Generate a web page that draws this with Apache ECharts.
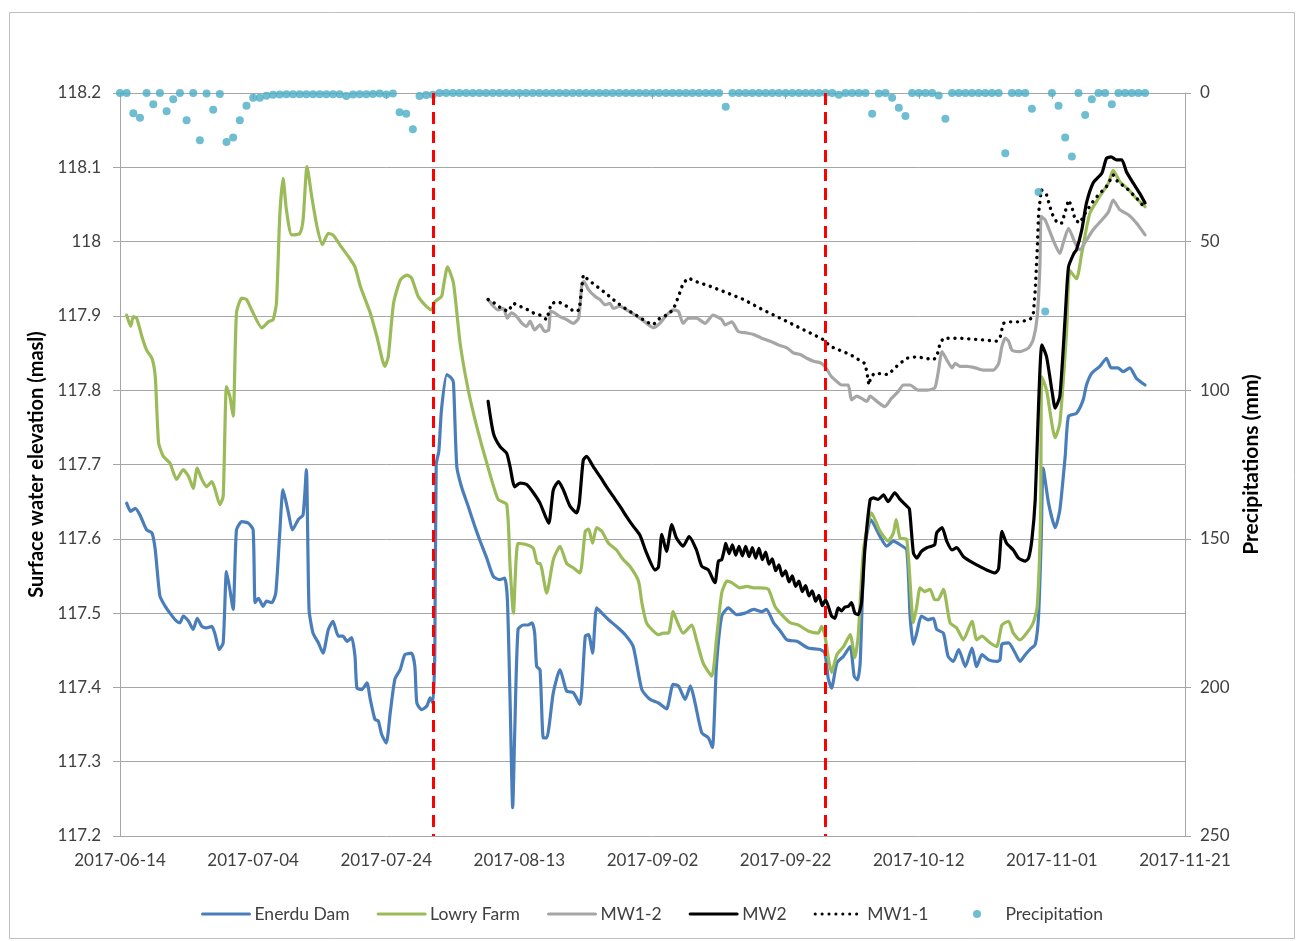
<!DOCTYPE html>
<html>
<head>
<meta charset="utf-8">
<title>Surface water elevation and precipitation, 2017</title>
<script src="https://cdn.jsdelivr.net/npm/echarts@6/dist/echarts.min.js"></script>
<style>
  html, body { margin: 0; padding: 0; background: #ffffff; }
  #chart { width: 1296px; height: 941px; }
</style>
</head>
<body>
<div id="chart"></div>
<script>
// x values are days after 2017-06-14
const xTickLabels = ['2017-06-14', '2017-07-04', '2017-07-24', '2017-08-13', '2017-09-02',
  '2017-09-22', '2017-10-12', '2017-11-01', '2017-11-21'];

// Red dashed markers: 2017-07-31 and 2017-09-28
const eventDays = [47, 106];

// Surface water elevation (masl), [day, value]
const enerduDam = [
  [1,117.648],[1.6,117.637],[2.3,117.641],[3,117.632],[4,117.612],[4.8,117.608],[5.3,117.585],[6,117.523],
  [6.8,117.509],[7.5,117.500],[8.3,117.491],[9,117.487],[9.5,117.496],[10.3,117.489],[11,117.478],[11.6,117.493],
  [12.3,117.482],[13,117.480],[13.8,117.482],[14.3,117.471],[14.9,117.451],[15.5,117.460],[16,117.556],[16.5,117.532],
  [17,117.505],[17.5,117.612],[18.3,117.623],[19.3,117.621],[20,117.612],[20.3,117.514],[20.8,117.520],[21.5,117.509],
  [22,117.516],[22.8,117.514],[23.4,117.527],[24,117.608],[24.5,117.666],[25.3,117.635],[25.9,117.612],[26.8,117.626],
  [27.5,117.632],[28,117.693],[28.4,117.505],[29,117.473],[29.8,117.460],[30.5,117.446],[31.3,117.478],[32,117.489],
  [32.8,117.469],[33.5,117.469],[34.1,117.462],[34.8,117.467],[35.3,117.442],[35.6,117.399],[36.3,117.397],[37.1,117.406],
  [37.6,117.384],[38.3,117.357],[38.8,117.355],[39.3,117.337],[40,117.325],[40.6,117.366],[41.3,117.411],[42.1,117.424],
  [42.8,117.444],[43.8,117.446],[44.3,117.428],[44.6,117.379],[45.3,117.370],[46.1,117.375],[46.6,117.386],[47.0,117.379],
  [47.3,117.450],[47.5,117.700],[47.9,117.718],[48.3,117.774],[49.1,117.821],[49.8,117.816],[50.1,117.810],[50.6,117.697],
  [51.3,117.670],[52.3,117.644],[53.3,117.617],[54.1,117.597],[55.1,117.574],[56.1,117.549],[57.1,117.545],[57.8,117.547],
  [58.2,117.518],[58.6,117.384],[59,117.238],[59.3,117.339],[59.8,117.478],[60.6,117.484],[61.3,117.484],[61.9,117.487],
  [62.3,117.473],[62.6,117.428],[63.1,117.424],[63.6,117.332],[64.1,117.332],[65.1,117.393],[66.1,117.424],[67.1,117.395],
  [68.1,117.393],[69.1,117.377],[69.9,117.469],[70.4,117.471],[71,117.446],[71.6,117.507],[72.4,117.500],[73.4,117.491],
  [74.6,117.482],[75.9,117.471],[77.1,117.455],[78.4,117.397],[79.6,117.384],[80.9,117.379],[82.1,117.371],[83.1,117.404],
  [83.9,117.402],[84.9,117.384],[85.7,117.402],[86.4,117.379],[87.4,117.339],[88.4,117.332],[89,117.319],[89.6,117.428],
  [90.4,117.496],[91.4,117.507],[92.6,117.498],[93.9,117.500],[95.2,117.505],[96.4,117.502],[97.1,117.505],[98.2,117.487],
  [99.2,117.476],[100.2,117.464],[101.7,117.462],[103.4,117.453],[105.2,117.451],[105.9,117.446],[106.4,117.412],[106.9,117.399],
  [107.7,117.433],[108.7,117.442],[109.7,117.455],[110.3,117.415],[110.8,117.410],[111.2,117.433],[111.8,117.581],[112.8,117.626],
  [114.2,117.603],[115.2,117.590],[116.2,117.597],[117.2,117.592],[118.2,117.585],[118.7,117.496],[119.2,117.458],[119.7,117.473],
  [120.4,117.496],[121.4,117.491],[122.2,117.493],[122.7,117.478],[123.7,117.473],[124.4,117.442],[125.2,117.435],[126,117.451],
  [127,117.428],[128,117.453],[128.7,117.428],[129.5,117.444],[130.5,117.437],[131.7,117.435],[132.2,117.437],[132.5,117.458],
  [133.5,117.460],[134.5,117.446],[135.2,117.435],[136,117.444],[136.7,117.451],[137.5,117.458],[138,117.496],[138.4,117.600],
  [138.7,117.695],[139.5,117.648],[140.5,117.615],[141.2,117.639],[142,117.711],[142.5,117.765],[143.7,117.769],[144.7,117.787],
  [145.2,117.807],[146,117.823],[147.2,117.832],[148.2,117.843],[148.9,117.830],[149.9,117.830],[150.7,117.825],[151.7,117.830],
  [152.7,117.816],[154,117.807]
];

const lowryFarm = [
  [1,117.901],[1.6,117.886],[2,117.899],[2.5,117.897],[3.3,117.872],[4,117.854],[4.8,117.843],[5.3,117.818],
  [5.8,117.729],[6.5,117.711],[7.5,117.702],[8.5,117.680],[9.5,117.693],[10.3,117.684],[11,117.668],[11.6,117.695],
  [12.3,117.680],[13,117.670],[13.8,117.677],[14.3,117.666],[15,117.646],[15.5,117.657],[16,117.805],[16.5,117.792],
  [17,117.765],[17.5,117.904],[18.3,117.924],[19,117.922],[20,117.904],[21.3,117.884],[22.3,117.892],[23,117.895],
  [23.5,117.917],[24,118.034],[24.5,118.085],[25,118.043],[25.8,118.009],[27,118.011],[27.5,118.029],[28.1,118.101],
  [28.8,118.061],[29.6,118.020],[30.4,117.996],[31.3,118.011],[32,118.009],[33,117.996],[34.3,117.980],[35.3,117.966],
  [36.1,117.940],[37.6,117.904],[38.6,117.872],[39.8,117.832],[40.3,117.845],[41.1,117.917],[42.1,117.948],[43.1,117.955],
  [43.8,117.951],[44.8,117.926],[45.8,117.915],[46.8,117.908],[47.3,117.919],[48.3,117.926],[48.6,117.940],[49.2,117.966],
  [50.1,117.944],[51.1,117.863],[52.3,117.801],[53.6,117.751],[55.1,117.702],[56.8,117.653],[58.1,117.646],[58.6,117.563],
  [59.1,117.500],[59.8,117.594],[61.1,117.592],[62.1,117.587],[62.7,117.567],[63.1,117.567],[64.1,117.527],[65.1,117.572],
  [66.1,117.590],[67.1,117.567],[68.1,117.561],[69.1,117.554],[69.9,117.610],[70.4,117.613],[71,117.594],[71.6,117.615],
  [72.4,117.610],[73.4,117.594],[74.6,117.585],[75.6,117.572],[76.6,117.563],[77.9,117.543],[78.4,117.514],[79.1,117.487],
  [80.1,117.476],[80.9,117.471],[81.6,117.473],[82.4,117.473],[83.1,117.502],[83.6,117.491],[84.6,117.473],[85.9,117.484],
  [86.6,117.464],[87.6,117.433],[88.9,117.415],[89.6,117.464],[90.4,117.527],[91.2,117.543],[91.9,117.541],[93.1,117.534],
  [94.2,117.536],[95.2,117.534],[96.2,117.534],[97.4,117.532],[98.4,117.509],[99.4,117.498],[100.7,117.487],[101.9,117.484],
  [103.4,117.476],[104.9,117.473],[105.4,117.482],[105.9,117.470],[106.4,117.440],[106.9,117.420],[107.7,117.444],[108.7,117.455],
  [109.7,117.471],[110.4,117.440],[110.9,117.469],[111.7,117.585],[112.9,117.635],[114.2,117.610],[115.4,117.597],[116.2,117.608],
  [116.6,117.626],[117.2,117.601],[118.2,117.599],[119.2,117.487],[119.7,117.509],[120.2,117.534],[120.9,117.529],[121.7,117.532],
  [122.4,117.518],[122.9,117.518],[123.7,117.532],[124.7,117.487],[125.7,117.480],[126.7,117.464],[128,117.489],[128.7,117.464],
  [129.5,117.469],[130.7,117.460],[131.7,117.455],[132.5,117.484],[133.5,117.489],[134.2,117.473],[135.2,117.464],[136.2,117.473],
  [137.2,117.487],[137.8,117.509],[138.3,117.630],[138.5,117.818],[139.2,117.800],[140.5,117.736],[141.2,117.756],[142.2,117.877],
  [142.7,117.961],[143.7,117.950],[144.5,117.985],[145.7,118.038],[147.2,118.061],[148.5,118.079],[149.2,118.096],[150.2,118.081],
  [151.5,118.070],[152.7,118.058],[154,118.047]
];

const mw1_2 = [
  [55.3,117.922],[56.1,117.913],[56.8,117.908],[57.6,117.910],[58.2,117.897],[58.8,117.904],[59.6,117.899],[60.4,117.890],
  [61.1,117.886],[61.6,117.893],[62.3,117.881],[63.1,117.888],[63.8,117.879],[64.4,117.881],[64.7,117.906],[65.3,117.904],
  [66.1,117.899],[67.1,117.895],[68.1,117.890],[68.9,117.897],[69.4,117.944],[69.7,117.946],[70.4,117.935],[71.4,117.926],
  [72.1,117.922],[72.9,117.915],[73.6,117.917],[74.1,117.910],[75.1,117.913],[76.1,117.908],[77.4,117.901],[78.4,117.895],
  [79.4,117.888],[80.1,117.884],[81.1,117.890],[82.1,117.901],[83.1,117.908],[83.9,117.906],[84.6,117.890],[85.4,117.897],
  [86.6,117.897],[87.9,117.890],[89.1,117.901],[90.4,117.895],[90.9,117.888],[91.9,117.892],[92.9,117.879],[94.2,117.877],
  [95.2,117.875],[96.4,117.870],[97.7,117.866],[98.9,117.861],[100.2,117.857],[101.2,117.850],[102.2,117.848],[103.2,117.843],
  [104.2,117.839],[105.2,117.837],[105.9,117.832],[106.9,117.818],[107.9,117.810],[108.4,117.807],[109.4,117.807],[109.9,117.787],
  [110.7,117.792],[111.4,117.789],[112.2,117.785],[112.7,117.792],[113.7,117.785],[114.9,117.778],[115.9,117.789],[116.9,117.798],
  [117.7,117.807],[118.7,117.807],[119.9,117.800],[121.2,117.800],[122.4,117.803],[122.9,117.823],[123.5,117.852],[124.2,117.841],
  [125,117.830],[125.5,117.836],[126.2,117.832],[127.2,117.832],[128.5,117.830],[129.7,117.827],[131.2,117.827],[132,117.836],
  [132.5,117.859],[133,117.870],[133.5,117.866],[134,117.854],[135.2,117.852],[136.5,117.857],[137.2,117.868],[137.8,117.899],
  [138.2,117.966],[138.4,118.034],[139,118.029],[140.2,118.002],[141.2,117.984],[141.7,117.998],[142.5,118.018],[143.5,117.998],
  [144.2,117.989],[145.2,118.002],[146.2,118.016],[147.5,118.029],[148.5,118.040],[149.2,118.056],[150.2,118.043],[151.5,118.036],
  [152.7,118.025],[154,118.009]
];

const mw2 = [
  [55.3,117.785],[56.1,117.742],[57.1,117.724],[58.1,117.715],[58.6,117.697],[59.3,117.670],[60.1,117.675],[61.1,117.673],
  [62.1,117.662],[63.1,117.648],[64.4,117.621],[65.1,117.666],[65.9,117.677],[66.6,117.666],[67.6,117.644],[68.6,117.635],
  [69,117.648],[69.6,117.706],[70.1,117.711],[71.1,117.697],[72.1,117.684],[73.1,117.670],[74.1,117.657],[75.1,117.644],
  [76.1,117.630],[77.1,117.617],[78.1,117.605],[79.1,117.581],[80.4,117.558],[80.9,117.562],[81.4,117.606],[82.1,117.583],
  [82.9,117.619],[83.6,117.601],[84.6,117.590],[85.5,117.603],[86.6,117.585],[87.4,117.563],[88.4,117.558],[89.1,117.545],
  [89.4,117.541],[89.9,117.570],[90.4,117.572],[90.9,117.590],
  [91,117.594],[91.5,117.580],[92,117.592],[92.5,117.578],[93,117.590],[93.5,117.577],[94,117.590],[94.5,117.576],
  [95,117.588],[95.5,117.574],[96,117.587],[96.5,117.572],[97,117.582],[97.5,117.566],[98,117.573],[98.5,117.557],
  [99,117.565],[99.5,117.550],[100,117.557],[100.5,117.542],[101,117.550],[101.5,117.536],[102,117.543],[102.5,117.529],
  [103,117.537],[103.5,117.523],[104,117.530],[104.5,117.516],[105,117.524],[105.5,117.510],[106,117.518],
  [106.9,117.496],[107.4,117.493],[107.9,117.507],[108.4,117.503],[108.9,117.508],[109.4,117.509],[109.9,117.514],[110.4,117.500],
  [110.9,117.498],[111.4,117.514],[111.9,117.585],[112.7,117.653],[113.2,117.655],[113.9,117.653],[114.7,117.659],[115.4,117.650],
  [116.4,117.662],[117.2,117.653],[118.2,117.644],[118.6,117.640],[119.2,117.581],[119.7,117.574],[120.4,117.583],[121.2,117.588],
  [121.9,117.590],[122.4,117.592],[122.7,117.608],[123.5,117.615],[124.2,117.597],[125,117.585],[125.7,117.588],[126.7,117.576],
  [127.7,117.570],[128.7,117.565],[130.2,117.558],[131.5,117.554],[132,117.560],[132.5,117.610],[133.2,117.594],[134.2,117.585],
  [135,117.574],[136,117.570],[136.5,117.574],[137,117.599],[137.5,117.653],[138,117.780],[138.5,117.861],[139.2,117.845],
  [140,117.800],[140.5,117.776],[141.2,117.792],[142,117.899],[142.5,117.966],[143.3,117.984],[143.7,117.989],[144.5,118.016],
  [145.2,118.052],[146.2,118.079],[147.5,118.092],[148.2,118.112],[148.9,118.114],[149.7,118.110],[150.5,118.110],[151.2,118.094],
  [152.2,118.079],[153.2,118.065],[154,118.052]
];

const mw1_1 = [
  [55.3,117.922],[56.3,117.917],[57.3,117.910],[58.3,117.906],[59.1,117.917],[60.1,117.913],[61.1,117.909],[62.1,117.904],
  [63.1,117.901],[64.1,117.895],[64.8,117.917],[65.9,117.919],[67.1,117.913],[68.2,117.906],[69,117.908],[69.4,117.940],
  [69.6,117.955],[70.4,117.948],[71.6,117.940],[72.9,117.931],[74.1,117.922],[75.4,117.913],[76.6,117.906],[77.9,117.899],
  [79.1,117.892],[80.1,117.888],[81.1,117.897],[82.1,117.901],[83.1,117.908],[83.9,117.926],[84.6,117.944],[85.4,117.951],
  [86.6,117.946],[88.6,117.940],[91.2,117.931],[93.7,117.922],[96.2,117.910],[98.7,117.899],[101.2,117.888],[103.7,117.877],
  [105.7,117.868],[106.7,117.859],[109.7,117.848],[111.9,117.836],[112.2,117.825],[112.5,117.807],[112.8,117.818],[113.4,117.823],
  [115.4,117.821],[116.9,117.834],[118.2,117.843],[119.7,117.845],[122.2,117.841],[122.7,117.845],[123.2,117.863],[123.7,117.870],
  [126.2,117.870],[129.2,117.868],[131.7,117.866],[132.2,117.870],[132.7,117.890],[133.5,117.892],[135.2,117.892],[136.7,117.895],
  [137.2,117.901],[137.5,117.935],[137.8,117.989],[138,118.038],[138.4,118.070],[139.2,118.063],[140,118.038],[140.8,118.025],
  [141.5,118.025],[142,118.040],[142.5,118.056],[143,118.047],[143.5,118.029],[144.2,118.025],[145,118.038],[146,118.052],
  [147,118.063],[148.2,118.074],[149.2,118.090],[150,118.079],[151,118.074],[152,118.065],[153,118.056],[154,118.045]
];

// Daily precipitation (mm), one value per day from 2017-06-14
const precipitation = [
  0, 0, 6.8, 8.3, 0, 3.8, 0, 6.1, 2.1, 0,
  9.2, 0, 15.9, 0.2, 5.6, 0.3, 16.5, 15.0, 9.2, 4.3,
  1.6, 1.6, 0.9, 0.6, 0.5, 0.4, 0.4, 0.4, 0.4, 0.4,
  0.4, 0.4, 0.4, 0.4, 1.0, 0.5, 0.4, 0.4, 0.3, 0.2,
  0.5, 0.2, 6.5, 7.0, 12.2, 1.0, 0.7, 0.6, 0, 0,
  0, 0, 0, 0, 0, 0, 0, 0, 0, 0,
  0, 0, 0, 0, 0, 0, 0, 0, 0, 0,
  0, 0, 0, 0, 0, 0, 0, 0, 0, 0,
  0, 0, 0, 0, 0, 0, 0, 0, 0, 0,
  0, 4.6, 0, 0, 0, 0, 0, 0, 0, 0,
  0, 0, 0, 0, 0, 0, 0, 0, 0.6, 0,
  0, 0, 0, 7.0, 0.2, 0, 1.6, 5.0, 7.7, 0,
  0, 0, 0, 0.8, 8.7, 0, 0, 0, 0, 0,
  0, 0, 0, 20.3, 0, 0, 0, 5.3, 33.3, 73.5,
  0, 4.3, 15.0, 21.4, 0, 7.4, 2.1, 0, 0, 3.8,
  0, 0, 0, 0, 0
];

const FONT = 'Lato';
const AXIS_GREY = '#A6A6A6';
const LABEL_COLOR = '#404040';

function lineSeries(name, data, color, extra) {
  return Object.assign({
    name: name,
    type: 'line',
    data: data,
    yAxisIndex: 0,
    symbol: 'none',
    smooth: 0.2,
    lineStyle: { color: color, width: 3.2, cap: 'round', join: 'round' },
    itemStyle: { color: color },
    emphasis: { disabled: true },
    z: 2
  }, extra || {});
}

const legendBase = {
  top: 900,
  itemWidth: 47,
  itemHeight: 8,
  itemGap: 27,
  selectedMode: false,
  textStyle: { fontFamily: FONT, fontSize: 17.5, color: LABEL_COLOR },
  lineStyle: { width: 3 }
};

const chart = echarts.init(document.getElementById('chart'), null, { renderer: 'canvas' });

chart.setOption({
  animation: false,
  backgroundColor: '#ffffff',
  textStyle: { fontFamily: FONT },
  graphic: [{
    type: 'rect',
    left: 7,
    top: 10,
    shape: { width: 1285, height: 926 },
    style: { fill: 'none', stroke: '#BFBFBF', lineWidth: 1 },
    silent: true,
    z: -10
  }],
  grid: { left: 120, right: 111, top: 93, bottom: 105 },
  legend: [
    Object.assign({}, legendBase, {
      id: 'levels',
      left: 196,
      data: [
        { name: 'Enerdu Dam', itemStyle: { opacity: 0 } },
        { name: 'Lowry Farm', itemStyle: { opacity: 0 } },
        { name: 'MW1-2', itemStyle: { opacity: 0 } },
        { name: 'MW2', itemStyle: { opacity: 0 } },
        { name: 'MW1-1', itemStyle: { opacity: 0 } }
      ]
    }),
    Object.assign({}, legendBase, {
      id: 'rain',
      left: 968,
      data: [{ name: 'Precipitation', icon: 'circle' }]
    })
  ],
  xAxis: {
    type: 'value',
    min: 0,
    max: 160,
    interval: 20,
    axisLine: { show: true, lineStyle: { color: AXIS_GREY, width: 1 } },
    axisTick: { show: true, length: 6, lineStyle: { color: AXIS_GREY } },
    splitLine: { show: false },
    axisLabel: {
      margin: 16,
      fontFamily: FONT,
      fontSize: 17,
      color: LABEL_COLOR,
      formatter: function (v) { return xTickLabels[Math.round(v / 20)] || ''; }
    }
  },
  yAxis: [{
    type: 'value',
    position: 'left',
    min: 117.2,
    max: 118.2,
    interval: 0.1,
    name: 'Surface water elevation (masl)',
    nameLocation: 'middle',
    nameRotate: 90,
    nameGap: 68,
    nameTextStyle: { fontFamily: FONT, fontSize: 20, fontWeight: 'bold', color: '#000000' },
    axisLine: { show: true, lineStyle: { color: AXIS_GREY, width: 1 } },
    axisTick: { show: true, length: 7, lineStyle: { color: AXIS_GREY } },
    splitLine: { show: true, lineStyle: { color: AXIS_GREY, width: 1 } },
    axisLabel: {
      margin: 19,
      fontFamily: FONT,
      fontSize: 17,
      color: LABEL_COLOR,
      formatter: function (v) { return String(Math.round(v * 10) / 10); }
    }
  }, {
    type: 'value',
    position: 'right',
    min: 0,
    max: 250,
    interval: 50,
    inverse: true,
    name: 'Precipitations (mm)',
    nameLocation: 'middle',
    nameRotate: 90,
    nameGap: 56,
    nameTextStyle: { fontFamily: FONT, fontSize: 21, fontWeight: 'bold', color: '#000000' },
    axisLine: { show: true, lineStyle: { color: AXIS_GREY, width: 1 } },
    axisTick: { show: true, length: 6, lineStyle: { color: AXIS_GREY } },
    splitLine: { show: false },
    axisLabel: { margin: 15, fontFamily: FONT, fontSize: 17, color: LABEL_COLOR }
  }],
  series: [
    lineSeries('Enerdu Dam', enerduDam, '#4A7EBB'),
    lineSeries('Lowry Farm', lowryFarm, '#9BBB59'),
    lineSeries('MW1-2', mw1_2, '#A6A6A6'),
    lineSeries('MW2', mw2, '#000000'),
    lineSeries('MW1-1', mw1_1, '#000000', {
      smooth: false,
      lineStyle: { color: '#000000', width: 3.4, type: [0.1, 6.8], cap: 'round' }
    }),
    {
      name: 'Precipitation',
      type: 'scatter',
      yAxisIndex: 1,
      data: precipitation.map(function (v, i) { return [i, v]; }),
      symbol: 'circle',
      symbolSize: 8,
      itemStyle: { color: '#4BACC6' },
      emphasis: { disabled: true },
      z: 4,
      markLine: {
        silent: true,
        symbol: 'none',
        label: { show: false },
        lineStyle: { color: '#FF0000', width: 3, type: [12, 7] },
        data: eventDays.map(function (d) { return { xAxis: d }; })
      }
    }
  ]
});
</script>
</body>
</html>
